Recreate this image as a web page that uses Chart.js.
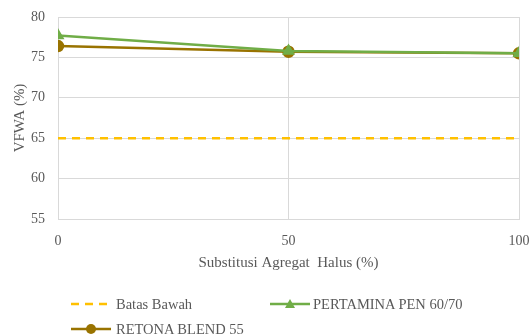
<!DOCTYPE html>
<html>
<head>
<meta charset="utf-8">
<script src="https://cdn.jsdelivr.net/npm/chart.js@4"></script>
<style>
  html, body { margin: 0; padding: 0; background: #fff; }
  #wrap { position: relative; width: 532px; height: 336px; }
  canvas { position: absolute; left: 0; top: 0; }
  .lg { position: absolute; font-family: "Liberation Serif", serif; font-size: 14.5px; color: #595959; white-space: nowrap; line-height: 16px; }
  .sw { position: absolute; }
</style>
</head>
<body>
<div id="wrap">
  <canvas id="c" width="532" height="336"></canvas>
  <canvas class="sw" id="s1" width="44" height="14" style="left:69px;top:297px"></canvas>
  <div class="lg" style="left:116px;top:296px">Batas Bawah</div>
  <canvas class="sw" id="s2" width="44" height="14" style="left:268px;top:297px"></canvas>
  <div class="lg" style="left:313px;top:296px">PERTAMINA PEN 60/70</div>
  <canvas class="sw" id="s3" width="44" height="14" style="left:69px;top:322px"></canvas>
  <div class="lg" style="left:116px;top:321px">RETONA BLEND 55</div>
</div>
<script>
// Fine aggregate substitution (%) and VFWA values
const substitusi = [0, 50, 100];
const pertamina = [77.7, 75.8, 75.5];
const retona = [76.4, 75.7, 75.5];
const batasBawah = [65, 65, 65];
const yTicks = [55, 60, 65, 70, 75, 80];

const seriesNames = ['Batas Bawah', 'PERTAMINA PEN 60/70', 'RETONA BLEND 55'];
const colBatas = '#FFC000';
const colPertamina = '#70AD47';
const colRetona = '#997300';
const txt = '#595959';
const grid = '#D9D9D9';
const serif = '"Liberation Serif", "Times New Roman", serif';

const toXY = arr => substitusi.map((x, i) => ({ x, y: arr[i] }));

new Chart(document.getElementById('c'), {
  type: 'line',
  data: {
    datasets: [
      { label: seriesNames[0], data: toXY(batasBawah), borderColor: colBatas, borderWidth: 2.5,
        borderDash: [8, 6], pointRadius: 0, fill: false },
      { label: seriesNames[1], data: toXY(pertamina), borderColor: colPertamina, backgroundColor: colPertamina,
        borderWidth: 2.5, pointStyle: 'triangle', pointRadius: 5, pointHoverRadius: 5, fill: false },
      { label: seriesNames[2], data: toXY(retona), borderColor: colRetona, backgroundColor: colRetona,
        borderWidth: 2.5, pointStyle: 'circle', pointRadius: 5, pointHoverRadius: 5, fill: false }
    ]
  },
  options: {
    responsive: false,
    animation: false,
    layout: { padding: { top: 17, right: 13, left: 0, bottom: 60 } },
    plugins: { legend: { display: false }, tooltip: { enabled: false } },
    scales: {
      x: {
        type: 'linear', min: 0, max: 100,
        afterBuildTicks: s => { s.ticks = substitusi.map(v => ({ value: v })); },
        afterFit: s => { s.height = 57; s.paddingLeft = 0; s.paddingRight = 0; },
        grid: { color: grid, lineWidth: 1, drawTicks: false },
        border: { color: grid },
        ticks: { color: txt, font: { family: serif, size: 14 }, padding: 14, maxRotation: 0 },
        title: { display: true, text: 'Substitusi Agregat  Halus (%)', color: txt,
                 font: { family: serif, size: 15 }, padding: { top: 4 } }
      },
      y: {
        min: 55, max: 80,
        afterBuildTicks: s => { s.ticks = yTicks.map(v => ({ value: v })); },
        afterFit: s => { s.width = 58; s.paddingTop = 0; s.paddingBottom = 0; },
        grid: { color: grid, lineWidth: 1, drawTicks: false },
        border: { color: grid },
        ticks: { color: txt, font: { family: serif, size: 14 }, padding: 13 },
        title: { display: true, text: 'VFWA (%)', color: txt,
                 font: { family: serif, size: 15 }, padding: { top: 11, bottom: 0 } }
      }
    }
  }
});

// Legend swatches
function swatch(id, color, dash, marker) {
  const ctx = document.getElementById(id).getContext('2d');
  ctx.strokeStyle = color; ctx.lineWidth = 2.5; ctx.setLineDash(dash);
  ctx.beginPath(); ctx.moveTo(2, 7); ctx.lineTo(42, 7); ctx.stroke();
  ctx.setLineDash([]); ctx.fillStyle = color;
  if (marker === 'triangle') {
    ctx.beginPath(); ctx.moveTo(22, 2); ctx.lineTo(27, 11); ctx.lineTo(17, 11); ctx.closePath(); ctx.fill();
  } else if (marker === 'circle') {
    ctx.beginPath(); ctx.arc(22, 7, 5, 0, Math.PI * 2); ctx.fill();
  }
}
swatch('s1', colBatas, [8, 6], null);
swatch('s2', colPertamina, [], 'triangle');
swatch('s3', colRetona, [], 'circle');
</script>
</body>
</html>
